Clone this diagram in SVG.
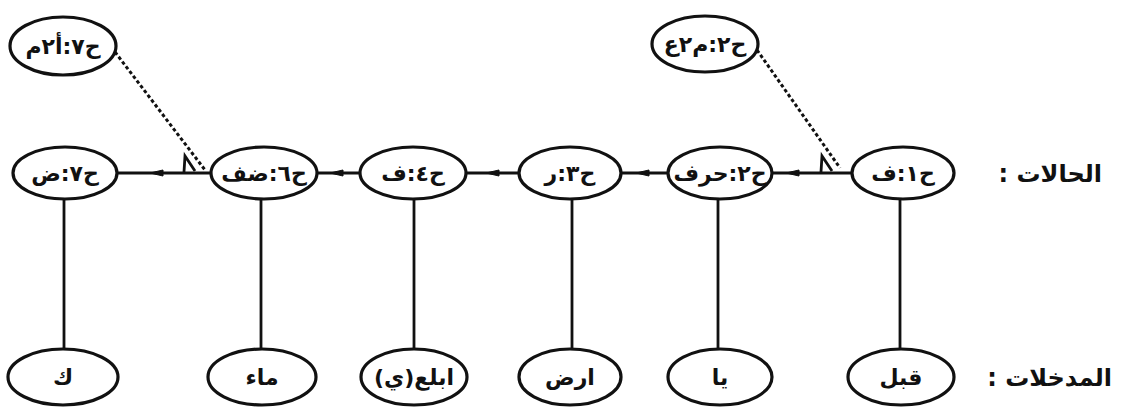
<svg xmlns="http://www.w3.org/2000/svg" width="1123" height="409" viewBox="0 0 1123 409">
<style>
.n ellipse{fill:#fff;stroke:#111;stroke-width:3.2}
.t{font-family:"DejaVu Sans",sans-serif;font-weight:bold;font-size:22px;fill:#111;text-anchor:middle;direction:rtl}
.lab{font-family:"DejaVu Sans",sans-serif;font-weight:bold;font-size:24px;fill:#111;direction:rtl}
.c line,.c path{stroke:#111;stroke-width:2.8;fill:none}
.c .d{stroke-dasharray:3.5 2.5;stroke-width:3}
.c polygon{fill:#111;stroke:#111;stroke-width:1}
</style>
<rect width="1123" height="409" fill="#fff"/>
<g class="c" id="connectors">
<line x1="115" y1="173" x2="211" y2="173"/>
<line x1="318" y1="173" x2="361" y2="173"/>
<line x1="466" y1="173" x2="520" y2="173"/>
<line x1="620" y1="173" x2="668" y2="173"/>
<line x1="772" y1="173" x2="852" y2="173"/>
<polygon points="150,173 163,170 163,176"/>
<polygon points="330,173 343,170 343,176"/>
<polygon points="486,173 499,170 499,176"/>
<polygon points="636,173 649,170 649,176"/>
<polygon points="786,173 799,170 799,176"/>
<line class="d" x1="115" y1="52" x2="205" y2="170"/>
<line class="d" x1="757" y1="50" x2="840" y2="168"/>
<path d="M184,172 L185,156 L195,171"/>
<path d="M821,172 L822,156 L832,171"/>
<line x1="64" y1="199" x2="64" y2="350"/>
<line x1="261" y1="199" x2="261" y2="350"/>
<line x1="414" y1="199" x2="414" y2="350"/>
<line x1="572" y1="199" x2="572" y2="350"/>
<line x1="718" y1="199" x2="718" y2="350"/>
<line x1="900" y1="199" x2="900" y2="350"/>
</g>
<g class="n" id="s7a"><ellipse cx="63" cy="46" rx="53" ry="29"/><text class="t" x="63" y="54">ح٧:أ٢م</text></g>
<g class="n" id="s2a"><ellipse cx="705" cy="44" rx="53" ry="28"/><text class="t" x="705" y="52">ح٢:م٢ع</text></g>
<g class="n" id="s7"><ellipse cx="65" cy="173" rx="52" ry="26"/><text class="t" x="65" y="181">ح٧:ض</text></g>
<g class="n" id="s6"><ellipse cx="264" cy="173" rx="53" ry="26"/><text class="t" x="264" y="181">ح٦:ضف</text></g>
<g class="n" id="s4"><ellipse cx="413" cy="173" rx="53" ry="26"/><text class="t" x="413" y="181">ح٤:ف</text></g>
<g class="n" id="s3"><ellipse cx="570" cy="173" rx="51" ry="26"/><text class="t" x="570" y="181">ح٣:ر</text></g>
<g class="n" id="s2"><ellipse cx="720" cy="173" rx="52" ry="26"/><text class="t" x="720" y="181">ح٢:حرف</text></g>
<g class="n" id="s1"><ellipse cx="903" cy="173" rx="51" ry="26"/><text class="t" x="903" y="181">ح١:ف</text></g>
<g class="n" id="i6"><ellipse cx="63" cy="377" rx="55" ry="28"/><text class="t" x="63" y="385">ك</text></g>
<g class="n" id="i5"><ellipse cx="262" cy="377" rx="54" ry="28"/><text class="t" x="262" y="385">ماء</text></g>
<g class="n" id="i4"><ellipse cx="414" cy="377" rx="53" ry="28"/><text class="t" x="414" y="385">ابلع(ي)</text></g>
<g class="n" id="i3"><ellipse cx="570" cy="377" rx="51" ry="28"/><text class="t" x="570" y="385">ارض</text></g>
<g class="n" id="i2"><ellipse cx="720" cy="377" rx="52" ry="28"/><text class="t" x="720" y="385">يا</text></g>
<g class="n" id="i1"><ellipse cx="901" cy="377" rx="53" ry="28"/><text class="t" x="901" y="385">قبل</text></g>
<g id="labels">
<text class="lab" x="1102" y="182" text-anchor="start">الحالات :</text>
<text class="lab" x="1112" y="386" text-anchor="start">المدخلات :</text>
</g>
</svg>
